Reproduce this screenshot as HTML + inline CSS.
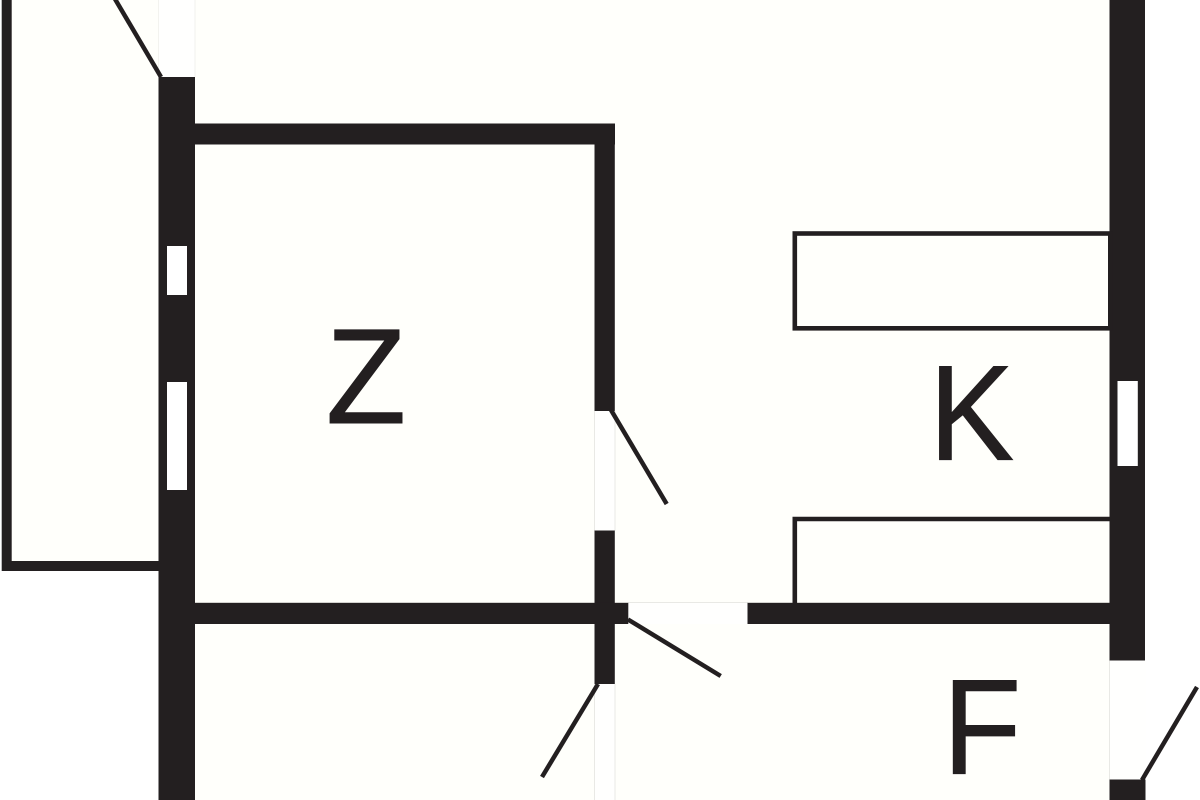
<!DOCTYPE html>
<html>
<head>
<meta charset="utf-8">
<style>
html,body{margin:0;padding:0;background:#ffffff;}
svg{display:block;}
text{font-family:"Liberation Sans",sans-serif;fill:#231f20;stroke:#231f20;stroke-width:.9;font-size:135.5px;text-anchor:middle;}
</style>
</head>
<body>
<svg width="1200" height="800" viewBox="0 0 1200 800" xmlns="http://www.w3.org/2000/svg">
<rect width="1200" height="800" fill="#ffffff"/>
<!-- cream interiors -->
<g fill="#fffffb">
<rect x="195" y="0" width="915" height="800"/>
<rect x="6" y="0" width="153" height="566"/>
</g>
<!-- door openings (whiter) -->
<g fill="#fffffe">
<rect x="159" y="0" width="36" height="77"/>
<rect x="595" y="411" width="20" height="120"/>
<rect x="595" y="684" width="20" height="116"/>
<rect x="628" y="603" width="120" height="21"/>
<rect x="1110" y="660" width="36" height="120"/>
</g>
<!-- faint thresholds -->
<g stroke="#e9e9e5" stroke-width="1" fill="none">
<line x1="158.500" y1="0" x2="158.500" y2="77" stroke="#f3f3ef"/>
<line x1="195" y1="0" x2="195" y2="77" stroke="#f1f1ed"/>
<line x1="594.500" y1="411" x2="594.500" y2="531"/>
<line x1="615" y1="411" x2="615" y2="531"/>
<line x1="628" y1="602.500" x2="748" y2="602.500"/>
<line x1="594.500" y1="684" x2="594.500" y2="800"/>
<line x1="615" y1="684" x2="615" y2="800"/>
<line x1="1109.500" y1="660" x2="1109.500" y2="780"/>
</g>
<g fill="#231f20">
<!-- left thick wall -->
<rect x="158.500" y="77" width="36.500" height="723"/>
<!-- right thick wall -->
<rect x="1109.500" y="0" width="35.500" height="660.500"/>
<!-- Z room top -->
<rect x="194" y="123.500" width="421" height="21"/>
<!-- Z room right -->
<rect x="594.500" y="123.500" width="20.300" height="287.500"/>
<rect x="594.500" y="530.500" width="20.300" height="153.500"/>
<!-- horizontal wall -->
<rect x="194" y="602.800" width="434.300" height="21.200"/>
<rect x="747.500" y="602.800" width="363" height="21.200"/>
<!-- bottom right stub -->
<rect x="1109.500" y="779.500" width="36" height="20.500"/>
</g>
<!-- windows -->
<rect x="167" y="246" width="20" height="49" fill="#ffffff"/>
<rect x="167" y="382" width="20" height="108" fill="#ffffff"/>
<rect x="1117.500" y="381" width="20.300" height="85" fill="#ffffff"/>
<!-- balcony -->
<path d="M6.700 0V566H159" fill="none" stroke="#231f20" stroke-width="10"/>
<!-- counters -->
<rect x="794.800" y="233.500" width="315.500" height="94.800" fill="none" stroke="#231f20" stroke-width="4.600"/>
<path d="M794.800 603V519H1110" fill="none" stroke="#231f20" stroke-width="4.600"/>
<!-- door leaves -->
<g stroke="#231f20" stroke-width="4.500" fill="none">
<line x1="115" y1="-1" x2="161" y2="77"/>
<line x1="611" y1="410" x2="666.700" y2="504"/>
<line x1="628" y1="619.500" x2="720.700" y2="676"/>
<line x1="598" y1="684" x2="542" y2="777"/>
<line x1="1142" y1="780" x2="1197" y2="687"/>
</g>
<!-- labels -->
<text transform="translate(366 423) scale(.97 1)">Z</text>
<text transform="translate(971.500 459.700) scale(.94 1)">K</text>
<text transform="translate(982 773.700) scale(.95 1)">F</text>
</svg>
</body>
</html>
